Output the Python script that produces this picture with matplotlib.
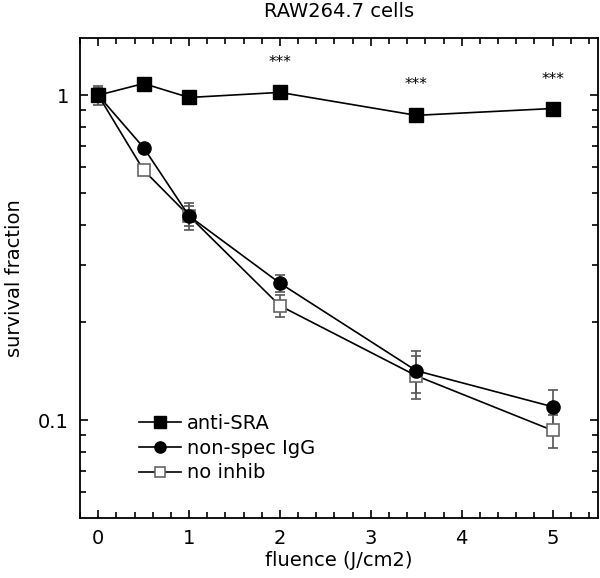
import matplotlib

matplotlib.use("Agg")
import matplotlib.pyplot as plt
from matplotlib.ticker import FixedLocator, MultipleLocator, NullFormatter

fluence = [0, 0.5, 1, 2, 3.5, 5]

anti_sra = [1.0, 1.086, 0.984, 1.02, 0.867, 0.91]
anti_sra_err = [0.065, 0.02, 0.02, 0.02, 0.02, 0.02]

non_spec = [1.0, 0.69, 0.425, 0.264, 0.142, 0.110]
non_spec_err = [0.05, 0.02, 0.04, 0.016, 0.021, 0.014]

no_inhib = [1.0, 0.588, 0.425, 0.225, 0.137, 0.093]
no_inhib_err = [0.05, 0.015, 0.03, 0.017, 0.021, 0.011]

series_labels = ["anti-SRA", "non-spec IgG", "no inhib"]

star_x = [2, 3.5, 5]
star_y = [1.26, 1.08, 1.12]

plt.rcParams["font.family"] = "DejaVu Sans"

fig = plt.figure(figsize=(6, 5.78), dpi=100)
ax = fig.add_axes([0.1333, 0.1038, 0.8634, 0.8305])

err_kw = dict(ecolor="#555555", elinewidth=1.2, capsize=3.5, capthick=1.2)
c1 = ax.errorbar(fluence, no_inhib, yerr=no_inhib_err, color="black", lw=1.2,
                 marker="s", ms=9, mfc="white", mec="#666666", mew=1.2, **err_kw)
c2 = ax.errorbar(fluence, non_spec, yerr=non_spec_err, color="black", lw=1.2,
                 marker="o", ms=9.5, mfc="black", mec="black", **err_kw)
c3 = ax.errorbar(fluence, anti_sra, yerr=anti_sra_err, color="black", lw=1.2,
                 marker="s", ms=10, mfc="black", mec="black", **err_kw)

for x, y in zip(star_x, star_y):
    ax.text(x, y, "***", ha="center", va="center", fontsize=11)

ax.set_yscale("log")
ax.set_xlim(-0.2, 5.5)
ax.set_ylim(0.05, 1.5)

ax.xaxis.set_major_locator(FixedLocator([0, 1, 2, 3, 4, 5]))
ax.xaxis.set_minor_locator(MultipleLocator(0.2))
ax.yaxis.set_major_locator(FixedLocator([0.1, 1]))
ax.yaxis.set_minor_locator(FixedLocator([0.06, 0.07, 0.08, 0.09, 0.2, 0.3, 0.4,
                                         0.5, 0.6, 0.7, 0.8, 0.9]))
ax.set_yticklabels(["0.1", "1"])
ax.yaxis.set_minor_formatter(NullFormatter())

ax.tick_params(which="both", direction="in", top=True, right=True, labelsize=14,
               width=1.2)
ax.tick_params(which="major", length=6, pad=8)
ax.tick_params(which="minor", length=4)
for s in ax.spines.values():
    s.set_linewidth(1.3)

ax.set_xlabel("fluence (J/cm2)", fontsize=14, labelpad=2)
ax.set_ylabel("survival fraction", fontsize=14, labelpad=10)
ax.set_title("RAW264.7 cells", fontsize=14, pad=15)

# legend shows only line + marker, no error bars
ax.legend([c3[0], c2[0], c1[0]], series_labels, loc="lower left",
          bbox_to_anchor=(0.098, 0.058), frameon=False, fontsize=14,
          handlelength=2.2, handletextpad=0.3, labelspacing=0.3,
          borderaxespad=0, markerscale=0.85)

fig.savefig("out.png", dpi=100)
